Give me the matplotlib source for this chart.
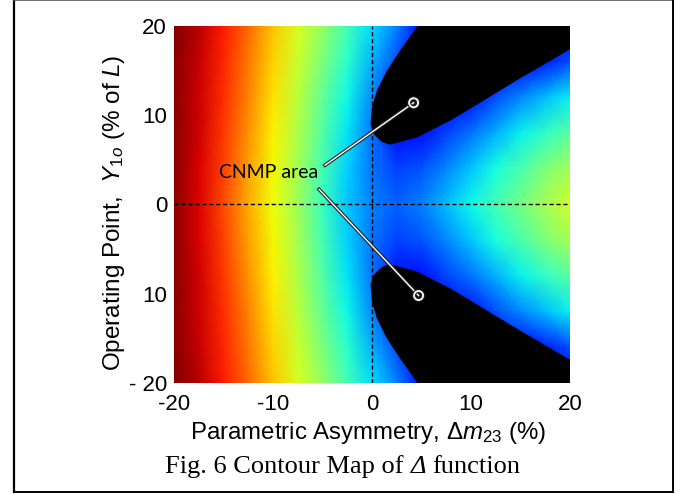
import matplotlib
matplotlib.use('Agg')
import matplotlib.pyplot as plt
import matplotlib.patheffects as pe
from matplotlib.lines import Line2D
import numpy as np

plt.rcParams['font.family'] = 'Liberation Sans'
plt.rcParams['mathtext.fontset'] = 'custom'
plt.rcParams['mathtext.rm'] = 'Liberation Sans'
plt.rcParams['mathtext.it'] = 'Liberation Sans:italic'

# Delta function (0..1 on the jet scale), upper half; map is symmetric in Y
x_grid = [-20, -17.5, -15, -12.5, -10, -7.5, -5, -2.5, 0, 2.5, 5, 7.5, 10, 12.5, 15, 17.5, 20]
y_half = [0, 4, 8, 12, 16, 20]
delta_half = [
    [0.99, 0.92, 0.83, 0.73, 0.64, 0.54, 0.42, 0.32, 0.25, 0.22, 0.25, 0.31, 0.37, 0.43, 0.49, 0.55, 0.60],
    [0.99, 0.92, 0.84, 0.74, 0.645, 0.55, 0.43, 0.33, 0.24, 0.19, 0.21, 0.26, 0.32, 0.38, 0.44, 0.50, 0.55],
    [0.99, 0.93, 0.85, 0.755, 0.655, 0.56, 0.45, 0.35, 0.24, 0.14, 0.14, 0.19, 0.24, 0.30, 0.36, 0.41, 0.46],
    [0.99, 0.93, 0.86, 0.77, 0.67, 0.575, 0.47, 0.37, 0.26, 0.13, 0.12, 0.12, 0.14, 0.20, 0.26, 0.31, 0.36],
    [0.99, 0.94, 0.87, 0.785, 0.685, 0.595, 0.50, 0.40, 0.30, 0.20, 0.12, 0.12, 0.12, 0.12, 0.12, 0.15, 0.20],
    [1.00, 0.95, 0.88, 0.80, 0.70, 0.61, 0.53, 0.43, 0.34, 0.25, 0.12, 0.12, 0.12, 0.12, 0.12, 0.12, 0.12],
]

# CNMP area outline (upper lobe), lower lobe is the mirror image
cnmp_x = [4.6, 2.8, 1.5, 0.5, 0.0, -0.15, 0.15, 1.0, 1.8, 4.5, 7.9, 11.2, 14.6, 18.0, 20.0, 20.0]
cnmp_y = [20.0, 17.2, 15.0, 12.8, 10.9, 9.0, 7.9, 7.0, 6.7, 7.5, 9.4, 11.6, 13.9, 16.1, 17.4, 20.0]

# annotation: text position and the two pointer ends
label_pos = (-10.4, 3.6)
pointer_start = [(-4.75, 4.4), (-5.35, 1.7)]
pointer_end = [(4.2, 11.4), (4.7, -10.2)]

xticks = [-20, -10, 0, 10, 20]
xtick_labels = ['-20', '-10', '0', '10', '20']
yticks = [-20, -10, 0, 10, 20]
ytick_labels = ['- 20', '10', '0', '10', '20']

y_full = [-v for v in y_half[:0:-1]] + y_half
z = np.array(delta_half)
z_full = np.vstack([z[:0:-1], z])

fig = plt.figure(figsize=(6.84, 4.94), dpi=100)
ax = fig.add_axes([0.2544, 0.2247, 0.579, 0.7227])

ax.pcolormesh(x_grid, y_full, z_full, shading='gouraud', cmap='jet', vmin=0, vmax=1)
ax.fill(cnmp_x, cnmp_y, color='k', lw=0, zorder=2)
ax.fill(cnmp_x, [-v for v in cnmp_y], color='k', lw=0, zorder=2)

ax.axvline(0, color='k', lw=1, ls=(0, (3, 2)), zorder=3)
ax.axhline(0, color='k', lw=1, ls=(0, (3, 2)), zorder=3)

outline = [pe.Stroke(linewidth=2.6, foreground='#222222'), pe.Normal()]
for (x0, y0), (x1, y1) in zip(pointer_start, pointer_end):
    ax.plot([x0, x1], [y0, y1], color='white', lw=1.0, zorder=4, path_effects=outline)
    ax.plot([x1], [y1], 'o', ms=6.5, mfc='none', mec='white', mew=1.3, zorder=5,
            path_effects=[pe.Stroke(linewidth=2.8, foreground='#222222'), pe.Normal()])
ax.text(label_pos[0], label_pos[1], 'CNMP area', ha='center', va='center',
        family='Lato', fontsize=14, zorder=5)

ax.set_xlim(-20, 20)
ax.set_ylim(-20, 20)
ax.set_xticks(xticks)
ax.set_xticklabels(xtick_labels)
ax.set_yticks(yticks)
ax.set_yticklabels(ytick_labels)
ax.tick_params(length=0, labelsize=16)
ax.tick_params(axis='x', pad=8)
ax.tick_params(axis='y', pad=5)
for s in ax.spines.values():
    s.set_visible(False)

ax.set_xlabel('Parametric Asymmetry, Δ$\\mathit{m}_{\\mathit{23}}$ (%)', fontsize=17.3)
ax.set_ylabel('Operating Point,  $\\mathit{Y}_{\\mathit{1o}}$ (% of $\\mathit{L}$)', fontsize=17.5)
ax.xaxis.set_label_coords(0.489, -0.104)
ax.xaxis.label.set_va('top')
ax.yaxis.set_label_coords(-0.118, 0.476)

# caption, with an italic Delta in the middle
renderer = fig.canvas.get_renderer()
cap_y = 1 - 467 / 494
cap_font = dict(family='Liberation Serif', fontsize=19, va='center', ha='left')
parts = [('Fig. 6 Contour Map of', 'normal'), ('Δ', 'italic'), ('function', 'normal')]
gap = 0.25 * 19 * 100 / 72 / 684
texts = [fig.text(0, cap_y, s, style=st, **cap_font) for s, st in parts]
widths = [t.get_window_extent(renderer).width / 684 for t in texts]
x = 343 / 684 - (sum(widths) + 2 * gap) / 2
for t, w in zip(texts, widths):
    t.set_x(x)
    x += w + gap

# frame around the figure
fig.add_artist(Line2D([0.0205, 0.0205], [0.004, 0.999], transform=fig.transFigure, color='k', lw=1.6))
fig.add_artist(Line2D([0.0205, 0.984], [0.999, 0.999], transform=fig.transFigure, color='#555555', lw=1.2))
fig.add_artist(Line2D([0.984, 0.984], [0.004, 0.999], transform=fig.transFigure, color='k', lw=1.4))
fig.add_artist(Line2D([0.0205, 0.984], [0.004, 0.004], transform=fig.transFigure, color='k', lw=1.4))

fig.savefig('out.png', dpi=100)
